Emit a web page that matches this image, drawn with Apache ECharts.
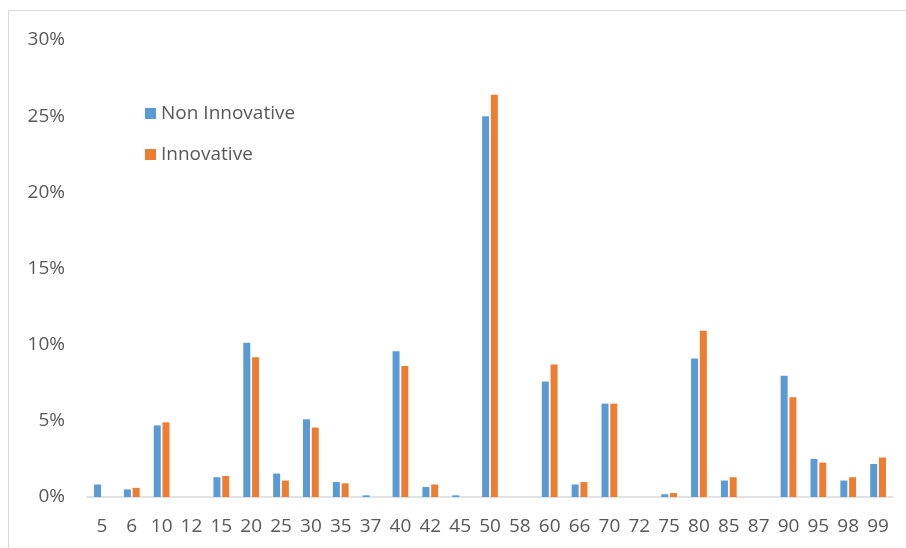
<!DOCTYPE html>
<html>
<head>
<meta charset="utf-8">
<script src="https://cdn.jsdelivr.net/npm/echarts@6/dist/echarts.min.js"></script>
<style>
html,body{margin:0;padding:0;background:#fff;}
#chart{width:906px;height:548px;}
</style>
</head>
<body>
<div id="chart"></div>
<script>
var categories = ['5','6','10','12','15','20','25','30','35','37','40','42','45','50','58','60','66','70','72','75','80','85','87','90','95','98','99'];
var seriesNames = ['Non Innovative', 'Innovative'];
var nonInnovative = [0.0082,0.0050,0.0470,0,0.0130,0.1013,0.0154,0.0510,0.0098,0.0011,0.0956,0.0066,0.0011,0.2500,0,0.0758,0.0082,0.0613,0,0.0018,0.0910,0.0108,0,0.0796,0.0250,0.0108,0.0217];
var innovative = [0,0.0060,0.0490,0,0.0138,0.0917,0.0108,0.0456,0.0090,0,0.0860,0.0082,0,0.2640,0,0.0870,0.0098,0.0613,0,0.0026,0.1092,0.0130,0,0.0655,0.0226,0.0130,0.0259];
var yTicks = {min: 0, max: 0.30, interval: 0.05};

var chart = echarts.init(document.getElementById('chart'));
var textColor = '#595959';
var font = 'Open Sans';
chart.setOption({
  animation: false,
  backgroundColor: '#ffffff',
  graphic: [{
    type: 'rect',
    shape: {x: 8.5, y: 10.5, width: 1200, height: 1200},
    style: {fill: 'none', stroke: '#D9D9D9', lineWidth: 1},
    silent: true
  }],
  grid: {left: 87, right: 13, top: 40, bottom: 51, containLabel: false},
  legend: {
    orient: 'vertical',
    left: 140,
    top: 99,
    itemWidth: 11,
    itemHeight: 11,
    itemGap: 22,
    icon: 'rect',
    data: seriesNames,
    textStyle: {color: textColor, fontSize: 19, fontFamily: font}
  },
  xAxis: {
    type: 'category',
    data: categories,
    axisLine: {lineStyle: {color: '#D9D9D9', width: 1.5}},
    axisTick: {show: false},
    axisLabel: {color: textColor, fontSize: 19, fontFamily: font, margin: 20, interval: 0}
  },
  yAxis: {
    type: 'value',
    min: yTicks.min,
    max: yTicks.max,
    interval: yTicks.interval,
    axisLine: {show: false},
    axisTick: {show: false},
    splitLine: {show: false},
    axisLabel: {
      color: textColor, fontSize: 19, fontFamily: font, margin: 22,
      formatter: function (v) { return Math.round(v * 100) + '%'; }
    }
  },
  series: [
    {name: seriesNames[0], type: 'bar', data: nonInnovative, barWidth: 7, barGap: '25%',
     itemStyle: {color: '#5B9BD5'}},
    {name: seriesNames[1], type: 'bar', data: innovative, barWidth: 7, barGap: '25%',
     itemStyle: {color: '#ED7D31'}}
  ]
});
</script>
</body>
</html>
